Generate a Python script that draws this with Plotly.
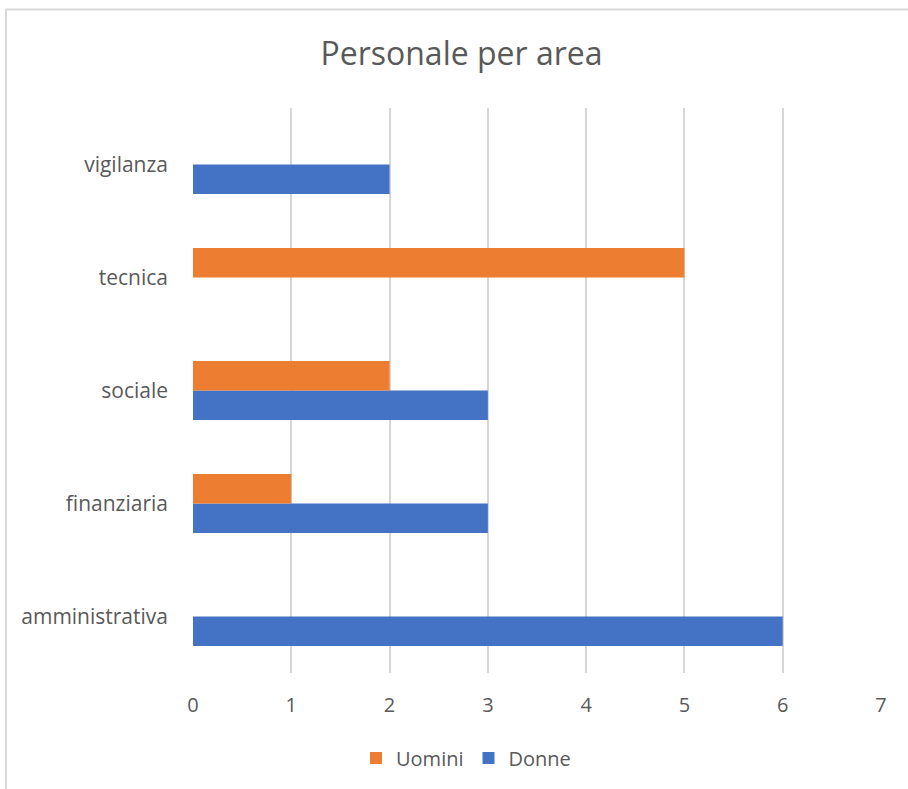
import plotly.graph_objects as go

categories = ["amministrativa", "finanziaria", "sociale", "tecnica", "vigilanza"]
donne = [6, 3, 3, 0, 2]
uomini = [0, 1, 2, 5, 0]
x_ticks = [0, 1, 2, 3, 4, 5, 6, 7]

W, H = 908, 789
L, T = 193, 108
R, B = W - 881, H - 673
pw, ph = W - L - R, H - T - B

def px_x(p):
    return (p - L) / pw

def px_y(p):
    return (H - B - p) / ph

text_col = "#595959"
font_fam = "Open Sans, Segoe UI, sans-serif"

fig = go.Figure()
fig.add_trace(go.Bar(y=categories, x=donne, name="Donne", orientation="h",
                     marker=dict(color="#4472C4", line=dict(width=0))))
fig.add_trace(go.Bar(y=categories, x=uomini, name="Uomini", orientation="h",
                     marker=dict(color="#ED7D31", line=dict(width=0))))

fig.update_layout(
    width=W, height=H,
    margin=dict(l=L, r=R, t=T, b=B, autoexpand=False),
    paper_bgcolor="white", plot_bgcolor="white",
    barmode="group", bargap=0.48, bargroupgap=0,
    font=dict(family=font_fam, color=text_col, size=20),
    title=dict(text="Personale per area", x=461.5 / W, xanchor="center",
               y=1 - 54 / H, yanchor="middle", yref="container",
               font=dict(size=32, color=text_col, family=font_fam)),
    xaxis=dict(range=[0, 7], tickvals=x_ticks, showgrid=True, gridcolor="#d6d6d6",
               gridwidth=1.6, zeroline=False, showline=False, ticks="",
               ticklabelstandoff=18, tickfont=dict(size=20, color=text_col)),
    yaxis=dict(showgrid=False, zeroline=False, showline=False, ticks="",
               ticklabelstandoff=24, tickfont=dict(size=21, color=text_col)),
    legend=dict(orientation="h", traceorder="reversed", x=px_x(466), xanchor="center",
                y=px_y(758), yanchor="middle", font=dict(size=20, color=text_col),
                itemwidth=30, bgcolor="rgba(0,0,0,0)"),
    showlegend=True,
)

fig.add_shape(type="rect", xref="paper", yref="paper",
              x0=px_x(6), x1=px_x(W + 30), y0=px_y(H + 30), y1=px_y(9.5),
              line=dict(color="#d9d9d9", width=2), fillcolor="rgba(0,0,0,0)", layer="below")

fig.write_html("out.html", config={"displayModeBar": False},
               post_script="document.body.style.margin='0';")
